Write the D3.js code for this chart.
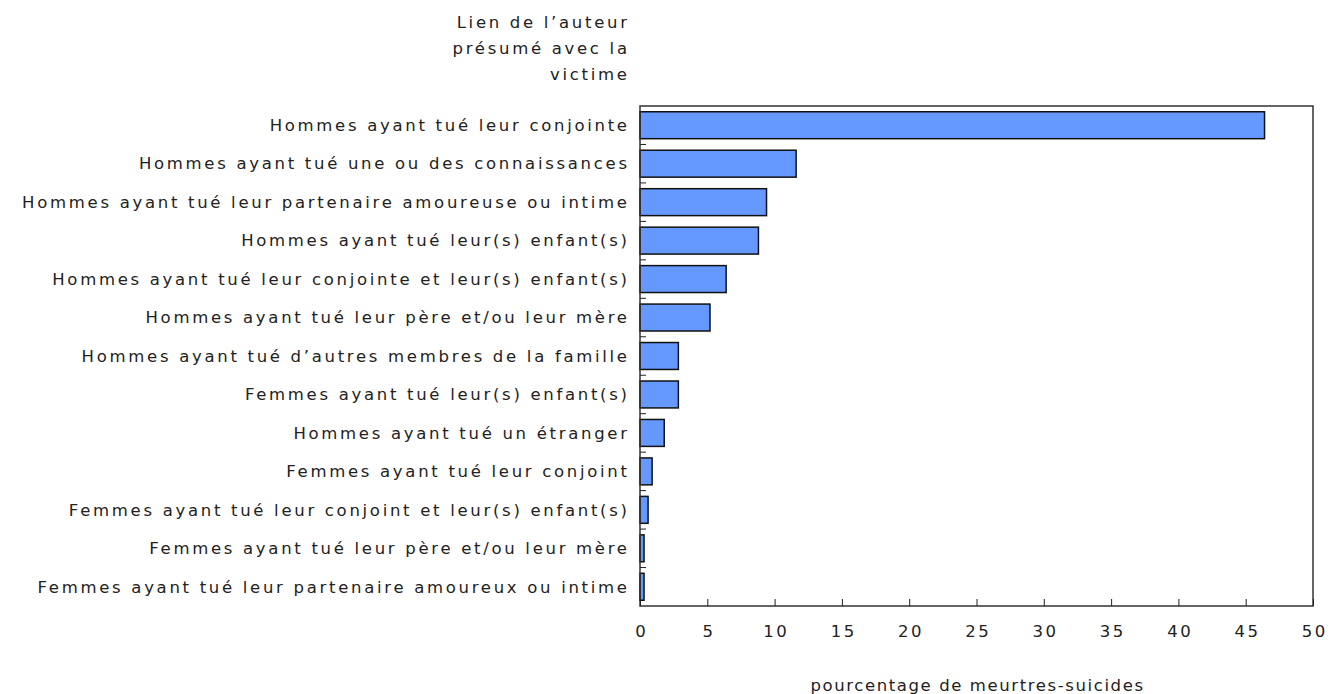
<!DOCTYPE html>
<html><head><meta charset="utf-8">
<script src="https://cdn.jsdelivr.net/npm/d3@7"></script>
<style>body{margin:0;background:#fff;} text{font-family:"DejaVu Sans",Verdana,sans-serif;fill:#222;}</style>
</head><body>
<svg id="c" width="1335" height="694"></svg>
<script>
const categories = [
 "Hommes ayant tué leur conjointe",
 "Hommes ayant tué une ou des connaissances",
 "Hommes ayant tué leur partenaire amoureuse ou intime",
 "Hommes ayant tué leur(s) enfant(s)",
 "Hommes ayant tué leur conjointe et leur(s) enfant(s)",
 "Hommes ayant tué leur père et/ou leur mère",
 "Hommes ayant tué d’autres membres de la famille",
 "Femmes ayant tué leur(s) enfant(s)",
 "Hommes ayant tué un étranger",
 "Femmes ayant tué leur conjoint",
 "Femmes ayant tué leur conjoint et leur(s) enfant(s)",
 "Femmes ayant tué leur père et/ou leur mère",
 "Femmes ayant tué leur partenaire amoureux ou intime"
];
const values = [46.4, 11.6, 9.4, 8.8, 6.4, 5.2, 2.85, 2.85, 1.8, 0.9, 0.6, 0.3, 0.3];
const xTicks = [0,5,10,15,20,25,30,35,40,45,50];
const yTitle = ["Lien de l’auteur","présumé avec la","victime"];
const xTitle = "pourcentage de meurtres-suicides";

const svg = d3.select("#c");
const L=640, R=1313, T=106, B=606;
const LS = 2.7; // letter spacing
const x = d3.scaleLinear().domain([0,50]).range([L,R]);
const y = d3.scaleBand().domain(categories).range([T,B]).paddingInner(0.3).paddingOuter(0.15);

svg.selectAll("rect.bar").data(values).enter().append("rect")
 .attr("x", x(0)).attr("y",(d,i)=>y(categories[i]))
 .attr("width", d=>x(d)-x(0)).attr("height", y.bandwidth())
 .attr("fill","#6699ff").attr("stroke","#111").attr("stroke-width",1.5);

svg.append("rect").attr("x",L).attr("y",T).attr("width",R-L).attr("height",B-T)
 .attr("fill","none").attr("stroke","#333").attr("stroke-width",1.5);

d3.range(1,categories.length).forEach(i=>{
  const yy = T + (B-T)*i/categories.length;
  svg.append("line").attr("x1",L).attr("x2",L+6).attr("y1",yy).attr("y2",yy).attr("stroke","#222").attr("stroke-width",1);
});

svg.selectAll("text.cat").data(categories).enter().append("text")
 .attr("x",L-13+LS).attr("y",d=>y(d)+y.bandwidth()/2).attr("dy","0.35em")
 .attr("text-anchor","end").attr("font-size","16.5px").attr("letter-spacing",LS+"px").text(d=>d);

const xAxis = d3.axisBottom(x).tickValues(xTicks).tickSize(-7).tickPadding(19).tickFormat(d3.format("d"));
const g = svg.append("g").attr("transform",`translate(0,${B})`).call(xAxis);
g.select(".domain").remove();
g.selectAll(".tick line").attr("stroke","#222");
g.selectAll(".tick text").attr("font-size","16.5px").attr("font-family","DejaVu Sans, sans-serif").attr("fill","#222")
 .attr("letter-spacing","2.5px").attr("dx","1.25px");

svg.append("text").attr("x",(L+R)/2+1).attr("y",691).attr("text-anchor","middle").attr("font-size","16.5px")
 .attr("letter-spacing","1.6px").text(xTitle);

yTitle.forEach((t,i)=>{
 svg.append("text").attr("x",627+LS).attr("y",28+i*26).attr("text-anchor","end").attr("font-size","16.5px")
  .attr("letter-spacing",LS+"px").text(t);
});
</script>
</body></html>
